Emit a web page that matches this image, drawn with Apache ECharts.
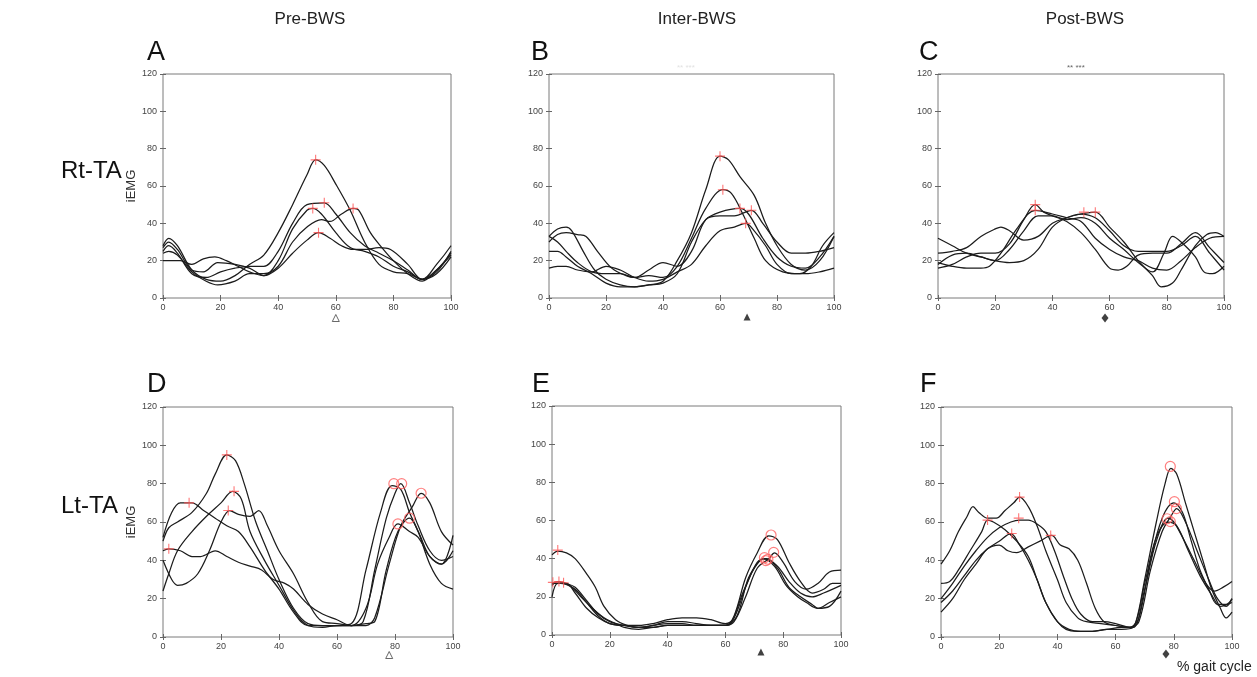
<!DOCTYPE html>
<html><head><meta charset="utf-8">
<script src="https://cdn.jsdelivr.net/npm/echarts@6/dist/echarts.min.js"></script>
<style>html,body{margin:0;padding:0;background:#fff}#c{width:1257px;height:677px}</style>
</head><body><div id="c"></div>
<script>
// ---------- DATA ----------
const colTitles = ['Pre-BWS', 'Inter-BWS', 'Post-BWS'];
const rowLabels = ['Rt-TA', 'Lt-TA'];
const panelLetters = ['A', 'B', 'C', 'D', 'E', 'F'];
const yName = 'iEMG';
const xName = '% gait cycle';
const xTickValues = [0, 20, 40, 60, 80, 100];
const yTickValues = [0, 20, 40, 60, 80, 100, 120];

// Panel A (Rt-TA, Pre-BWS)
const A1 = [[0,28],[2,32],[5,28],[10,15],[15,10],[20,9],[25,12],[30,18],[35,23],[40,35],[45,50],[50,66],[53,74],[56,71],[60,61],[65,47],[70,30],[75,18],[80,14],[85,13],[90,10],[95,18],[100,28]];
const A2 = [[0,25],[2,28],[5,24],[10,13],[15,11],[20,14],[25,16],[30,17],[35,17],[40,25],[45,40],[50,50],[56,51],[60,45],[65,35],[70,28],[75,24],[80,20],[85,15],[90,10],[95,14],[100,25]];
const A3 = [[0,27],[2,30],[5,26],[10,15],[14,14],[19,19],[25,18],[30,16],[35,12],[40,20],[45,37],[50,47],[52,48],[55,45],[60,35],[65,27],[70,25],[75,22],[80,17],[85,14],[90,10],[95,15],[100,24]];
const A4 = [[0,24],[2,25],[5,23],[10,14],[15,9],[19,7],[25,9],[30,13],[35,13],[40,17],[45,30],[50,38],[55,42],[58,41],[62,45],[66,48],[68,47],[72,35],[76,27],[80,20],[85,13],[90,9],[95,15],[100,23]];
const A5 = [[0,20],[2,20],[6,20],[10,18],[14,21],[18,22],[22,20],[26,17],[30,14],[35,12],[40,16],[45,24],[50,31],[54,35],[58,32],[62,28],[66,26],[70,26],[75,27],[79,26],[85,18],[90,10],[95,13],[100,22]];
const peaksA = [[53,74],[56,51],[52,48],[66,48],[54,35]];

// Panel B (Rt-TA, Inter-BWS)
const B1 = [[0,33],[3,37],[6,38],[8,36],[12,25],[16,15],[20,10],[25,7],[30,6],[35,7],[40,9],[45,20],[50,35],[55,58],[60,76],[63,74],[67,65],[72,55],[76,40],[80,28],[85,18],[90,15],[95,20],[100,33]];
const B2 = [[0,30],[3,34],[6,35],[10,34],[13,33],[17,25],[22,16],[27,12],[30,11],[35,12],[40,11],[45,17],[50,32],[55,48],[61,58],[64,56],[68,45],[72,32],[76,20],[82,14],[88,13],[92,17],[96,28],[100,35]];
const B3 = [[0,25],[3,25],[6,22],[10,17],[15,13],[20,8],[25,6],[30,6],[35,7],[40,8],[45,13],[50,30],[55,42],[60,46],[67,48],[70,45],[75,32],[80,22],[85,17],[90,16],[95,22],[100,33]];
const B4 = [[0,33],[3,30],[6,25],[10,19],[15,14],[20,13],[25,13],[30,11],[35,15],[40,19],[45,17],[50,25],[55,42],[60,44],[65,44],[71,47],[75,40],[80,30],[85,24],[90,24],[95,25],[100,27]];
const B5 = [[0,16],[3,17],[6,17],[10,15],[15,14],[20,17],[25,15],[30,11],[35,9],[40,10],[45,14],[50,18],[55,28],[60,36],[65,38],[69,40],[72,36],[76,28],[80,18],[85,13],[90,13],[95,14],[100,16]];
const peaksB = [[60,76],[61,58],[67,48],[71,47],[69,40]];

// Panel C (Rt-TA, Post-BWS)
const C1 = [[0,16],[5,18],[10,22],[15,24],[20,24],[25,29],[30,42],[34,50],[37,46],[40,44],[45,41],[50,35],[55,26],[60,16],[63,15],[66,17],[70,23],[75,24],[80,24],[85,29],[90,35],[95,27],[100,19]];
const C2 = [[0,19],[5,17],[10,16],[15,16],[18,17],[22,24],[28,38],[34,47],[40,45],[45,43],[50,41],[55,32],[60,26],[65,22],[70,20],[75,16],[80,15],[85,20],[90,27],[95,32],[100,33]];
const C3 = [[0,32],[5,28],[10,24],[15,22],[20,20],[25,19],[30,20],[35,26],[40,38],[45,43],[50,45],[55,43],[60,36],[65,28],[70,25],[75,25],[80,25],[85,28],[90,33],[95,24],[100,15]];
const C4 = [[0,24],[5,25],[10,27],[15,33],[20,37],[22,38],[25,36],[30,31],[35,33],[40,40],[45,43],[50,45],[55,46],[60,38],[65,30],[70,20],[75,12],[78,6],[82,8],[85,15],[90,28],[94,34],[97,35],[100,33]];
const C5 = [[0,18],[5,23],[10,24],[15,22],[20,20],[25,26],[30,36],[35,44],[40,44],[45,42],[50,43],[55,40],[60,32],[65,26],[70,19],[75,14],[79,24],[82,33],[85,30],[90,22],[93,14],[96,13],[100,17]];
const peaksC = [[34,50],[34,47],[51,46],[55,46]];

// Panel D (Lt-TA, Pre-BWS)
const D1 = [[0,50],[2,57],[5,60],[10,65],[15,75],[18,85],[22,95],[25,92],[28,80],[32,60],[36,45],[40,30],[45,15],[50,7],[55,6],[60,6],[65,6],[69,8],[73,35],[77,62],[80,75],[82,80],[85,70],[88,58],[92,45],[96,40],[100,42]];
const D2 = [[0,24],[2,33],[5,45],[10,55],[15,63],[20,70],[24,76],[27,72],[30,55],[35,40],[40,27],[45,14],[50,6],[55,5],[60,6],[65,6],[70,7],[73,8],[77,35],[81,55],[85,62],[88,55],[92,42],[96,38],[100,53]];
const D3 = [[0,52],[3,65],[6,70],[10,70],[14,66],[18,62],[22,58],[26,55],[30,47],[35,35],[40,25],[45,13],[50,6],[55,6],[60,6],[65,7],[70,35],[75,65],[79,79],[82,77],[85,65],[88,55],[92,38],[96,28],[100,25]];
const D4 = [[0,40],[3,30],[5,27],[8,28],[12,33],[16,45],[20,60],[23,66],[26,64],[30,63],[33,66],[36,58],[40,45],[45,33],[50,18],[55,8],[60,7],[65,6],[70,15],[74,38],[78,52],[81,59],[85,55],[88,52],[92,42],[96,38],[100,45]];
const D5 = [[0,45],[2,46],[6,45],[10,42],[13,42],[18,45],[22,42],[26,39],[30,37],[34,35],[38,30],[42,28],[45,25],[50,17],[55,12],[60,9],[65,6],[70,6],[73,10],[78,38],[82,58],[86,68],[89,75],[92,70],[96,55],[100,48]];
const peaksD = [[2,46],[9,70],[22,95],[24.5,76],[22.5,66]];
const circlesD = [[79.6,80],[82.3,80],[89,75],[81,59],[85,62]];

// Panel E (Lt-TA, Inter-BWS)
const E1 = [[0,42],[2,44],[5,43],[8,40],[12,32],[15,25],[18,15],[22,8],[26,5],[30,4],[35,5],[40,6],[45,6],[50,5],[55,5],[60,5],[63,10],[67,30],[71,43],[75,52],[78,50],[82,38],[86,28],[90,22],[94,24],[97,27],[100,27]];
const E2 = [[0,20],[2,27],[5,27],[8,22],[12,14],[16,9],[20,6],[25,5],[30,5],[35,6],[40,8],[45,9],[50,9],[55,8],[60,6],[63,9],[67,25],[71,38],[74,40],[78,35],[82,25],[86,20],[90,16],[92,14],[96,17],[100,20]];
const E3 = [[0,26],[2,28],[5,27],[8,25],[12,18],[16,11],[20,7],[25,5],[30,4],[35,5],[40,7],[45,7],[50,6],[55,5],[60,5],[64,10],[68,30],[72,39],[74,40],[78,36],[82,28],[86,22],[90,20],[94,22],[100,26]];
const E4 = [[0,27],[2,28],[4,27],[8,24],[12,17],[16,10],[20,6],[25,5],[30,4],[35,4],[40,5],[45,5],[50,5],[55,5],[60,5],[63,7],[67,20],[71,35],[75,40],[77,43],[80,38],[84,28],[88,24],[92,27],[96,33],[100,34]];
const E5 = [[0,27],[3,27],[6,26],[10,20],[14,14],[18,9],[22,6],[25,4],[30,3],[35,4],[40,5],[45,5],[50,5],[55,5],[60,5],[62,6],[66,22],[70,35],[73,40],[77,36],[81,26],[85,20],[88,17],[92,14],[96,15],[100,23]];
const peaksE = [[2,44.5],[2.4,28],[0.3,27.6],[4,27.4]];
const circlesE = [[75.8,52.4],[76.7,43.3],[73.5,40.5],[74.7,39.7],[74,39]];

// Panel F (Lt-TA, Post-BWS)
const F1 = [[0,38],[3,45],[6,55],[9,63],[11,68],[13,65],[16,62],[19,62],[22,66],[25,70],[27,73],[30,68],[33,58],[36,45],[40,30],[43,18],[47,10],[50,8],[55,7],[60,6],[65,5],[67,8],[70,30],[74,60],[77,80],[79,88],[81,85],[84,70],[87,55],[90,40],[93,25],[96,15],[98,10],[100,13]];
const F2 = [[0,28],[3,29],[6,35],[10,45],[14,55],[16,61],[18,60],[22,56],[26,50],[30,42],[33,30],[36,18],[40,8],[43,4],[47,3],[52,3],[57,4],[62,5],[66,5],[70,25],[74,50],[78,62],[80,60],[83,52],[87,40],[91,28],[94,24],[97,26],[100,29]];
const F3 = [[0,20],[4,28],[8,37],[12,45],[16,52],[20,57],[24,60],[27,61],[30,61],[33,59],[36,55],[39,45],[42,32],[45,20],[48,12],[52,8],[56,8],[60,7],[65,5],[68,10],[72,40],[76,62],[80,70],[83,65],[86,50],[89,35],[92,25],[95,17],[98,17],[100,20]];
const F4 = [[0,18],[4,24],[8,32],[12,40],[16,46],[20,50],[24,54],[27,48],[30,40],[33,30],[36,18],[40,8],[44,4],[48,3],[52,3],[57,4],[62,4],[66,5],[70,28],[74,52],[78,60],[81,58],[85,45],[89,32],[93,22],[96,16],[100,18]];
const F5 = [[0,13],[4,20],[8,30],[12,38],[16,46],[20,48],[23,45],[26,44],[30,47],[34,50],[38,53],[41,48],[44,46],[47,40],[50,28],[53,15],[56,8],[60,6],[65,5],[68,8],[72,35],[76,55],[79,63],[81,67],[84,60],[88,45],[92,30],[95,20],[98,16],[100,20]];
const peaksF = [[16,61],[27,73],[26.7,62],[24.3,54],[37.7,53]];
const circlesF = [[78.8,89],[80.2,70.6],[80.9,67],[77.7,61.7],[78.8,60.2]];

// Event markers below the x-axis (% gait cycle)
const eventsX = [60, 69.5, 58.4, 78, 72.3, 77.3];
const eventKinds = ['open', 'filled', 'diamond', 'open', 'filled', 'diamond'];

// ---------- LAYOUT ----------
const panels = [
  {curves:[A1,A2,A3,A4,A5], peaks:peaksA, circles:[], g:{left:163,top:74,width:288,height:224}, ev:20},
  {curves:[B1,B2,B3,B4,B5], peaks:peaksB, circles:[], g:{left:549,top:74,width:285,height:224}, ev:19},
  {curves:[C1,C2,C3,C4,C5], peaks:peaksC, circles:[], g:{left:938,top:74,width:286,height:224}, ev:20},
  {curves:[D1,D2,D3,D4,D5], peaks:peaksD, circles:circlesD, g:{left:163,top:407,width:290,height:230}, ev:18},
  {curves:[E1,E2,E3,E4,E5], peaks:peaksE, circles:circlesE, g:{left:552,top:406,width:289,height:229}, ev:17},
  {curves:[F1,F2,F3,F4,F5], peaks:peaksF, circles:circlesF, g:{left:941,top:407,width:291,height:230}, ev:17}
];
const FONT = '"Liberation Sans", Arial, sans-serif';
const plusPath = 'path://M0,4.45H10V5.55H0Z M4.45,0H5.55V10H4.45Z';

const grid = [], xAxis = [], yAxis = [], series = [];
panels.forEach((p, i) => {
  grid.push(Object.assign({show:true, borderColor:'#7a7a7a', borderWidth:1, backgroundColor:'#fff'}, p.g));
  const tick = {show:true, inside:true, length:3, lineStyle:{color:'#666'}};
  const base = {type:'value', gridIndex:i, min:0, max:100, interval:20, splitLine:{show:false}, axisLine:{show:false}, axisTick:tick};
  xAxis.push(Object.assign({}, base, {position:'bottom', axisLabel:{fontSize:9, color:'#444', margin:5, fontFamily:FONT}}));
  xAxis.push(Object.assign({}, base, {position:'top', axisLabel:{show:false}}));
  const ybase = {type:'value', gridIndex:i, min:0, max:120, interval:20, splitLine:{show:false}, axisLine:{show:false}, axisTick:tick};
  const yl = Object.assign({}, ybase, {position:'left', axisLabel:{fontSize:9, color:'#444', margin:6, fontFamily:FONT}});
  if (i === 0 || i === 3) {
    yl.name = yName; yl.nameLocation = 'middle'; yl.nameGap = 24;
    yl.nameTextStyle = {fontSize:13, color:'#333', fontFamily:FONT};
  }
  yAxis.push(yl);
  yAxis.push(Object.assign({}, ybase, {position:'right', axisLabel:{show:false}}));
  const xi = i * 2, yi = i * 2;
  p.curves.forEach(c => series.push({
    type:'line', xAxisIndex:xi, yAxisIndex:yi, data:c, smooth:0.35, showSymbol:false, silent:true,
    lineStyle:{color:'#1c1c1c', width:1.25}, z:2
  }));
  series.push({type:'scatter', xAxisIndex:xi, yAxisIndex:yi, data:p.peaks, symbol:plusPath, symbolSize:10,
    itemStyle:{color:'#ff5555'}, z:4, silent:true});
  if (p.circles.length) series.push({type:'scatter', xAxisIndex:xi, yAxisIndex:yi, data:p.circles, symbol:'circle', symbolSize:10,
    itemStyle:{color:'rgba(0,0,0,0)', borderColor:'#ff6060', borderWidth:1.2}, z:4, silent:true});
  const k = eventKinds[i];
  series.push({type:'scatter', xAxisIndex:xi, yAxisIndex:yi, data:[[eventsX[i], 0]], clip:false,
    symbol: k === 'diamond' ? 'diamond' : 'triangle',
    symbolSize: k === 'diamond' ? [7, 9] : 7, symbolOffset:[0, p.ev],
    itemStyle: k === 'open' ? {color:'#fff', borderColor:'#444', borderWidth:1} : {color:'#111'}, z:4, silent:true});
});

const title = [];
const colCenters = [305, 692, 1080];
colTitles.forEach((t, j) => title.push({text:t, left:colCenters[j], top:6, textAlign:'center',
  textStyle:{fontSize:17, fontWeight:'normal', color:'#222', fontFamily:FONT}}));
const letterPos = [[142,34],[526,34],[914,34],[142,366],[527,366],[915,366]];
panelLetters.forEach((t, i) => title.push({text:t, left:letterPos[i][0], top:letterPos[i][1],
  textStyle:{fontSize:27, fontWeight:'normal', color:'#111', fontFamily:FONT}}));
title.push({text:rowLabels[0], left:56, top:154, textStyle:{fontSize:24, fontWeight:'normal', color:'#111', fontFamily:FONT}});
title.push({text:rowLabels[1], left:56, top:489, textStyle:{fontSize:24, fontWeight:'normal', color:'#111', fontFamily:FONT}});
title.push({text:xName, left:1172, top:655, textStyle:{fontSize:14, fontWeight:'normal', color:'#222', fontFamily:FONT}});
title.push({text:'** ***', left:1062, top:59, textStyle:{fontSize:8, fontWeight:'normal', color:'#666', fontFamily:FONT}});
title.push({text:'** ***', left:672, top:59, textStyle:{fontSize:8, fontWeight:'normal', color:'#e2e2e2', fontFamily:FONT}});

const chart = echarts.init(document.getElementById('c'), null, {renderer:'canvas'});
chart.setOption({animation:false, backgroundColor:'#fff', title, grid, xAxis, yAxis, series});
</script></body></html>
